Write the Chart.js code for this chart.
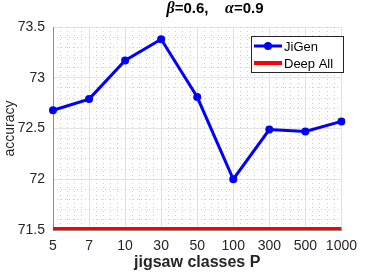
<!DOCTYPE html>
<html>
<head>
<meta charset="utf-8">
<script src="https://cdn.jsdelivr.net/npm/chart.js@4.4.0/dist/chart.umd.min.js"></script>
<style>
  body { margin: 0; background: #fff; }
  #wrap { width: 365px; height: 273px; }
</style>
</head>
<body>
<div id="wrap"><canvas id="chart" width="365" height="273"></canvas></div>
<script>
// values
const categories = ["5", "7", "10", "30", "50", "100", "300", "500", "1000"];
const jigenAcc = [72.68, 72.79, 73.17, 73.38, 72.81, 72.0, 72.49, 72.47, 72.57];
const deepAllAcc = [71.51, 71.51, 71.51, 71.51, 71.51, 71.51, 71.51, 71.51, 71.51];
const yMin = 71.5;
const yMax = 73.5;
const yStep = 0.5;

const tickFont = { family: "'Liberation Sans', Arial, sans-serif", size: 14 };
const majorGrid = "#e3e3e3";
const minorGrid = "#d0d0d0";

// title with italic greek letters
const titlePlugin = {
  id: "title2",
  afterDraw(chart) {
    const ctx = chart.ctx;
    const parts = [
      { t: "\u03b2", f: "italic bold 16px 'Liberation Serif', serif" },
      { t: "=0.6,    ", f: "bold 15px 'Liberation Sans', Arial, sans-serif" },
      { t: "\u03b1", f: "italic bold 16px 'Liberation Serif', serif" },
      { t: "=0.9", f: "bold 15px 'Liberation Sans', Arial, sans-serif" }
    ];
    ctx.save();
    ctx.fillStyle = "#000";
    ctx.textBaseline = "middle";
    let w = 0;
    parts.forEach(p => { ctx.font = p.f; w += ctx.measureText(p.t).width; });
    let x = 215 - w / 2;
    parts.forEach(p => {
      ctx.font = p.f;
      ctx.fillText(p.t, x, 9);
      x += ctx.measureText(p.t).width;
    });
    ctx.restore();
  }
};

// boxed legend in the upper right corner, like matlab's
const legendPlugin = {
  id: "boxLegend",
  afterDatasetsDraw(chart) {
    const ctx = chart.ctx;
    const x0 = 251, y0 = 36, w = 92, h = 36;
    ctx.save();
    ctx.fillStyle = "#fff";
    ctx.fillRect(x0, y0, w, h);
    ctx.strokeStyle = "#262626";
    ctx.lineWidth = 1;
    ctx.strokeRect(x0 + 0.5, y0 + 0.5, w, h);
    ctx.font = "13px 'Liberation Sans', Arial, sans-serif";
    ctx.textBaseline = "middle";
    chart.data.datasets.forEach((ds, i) => {
      const y = y0 + 10 + i * 17;
      ctx.strokeStyle = ds.borderColor;
      ctx.lineWidth = ds.borderWidth;
      ctx.beginPath();
      ctx.moveTo(x0 + 3, y);
      ctx.lineTo(x0 + 31, y);
      ctx.stroke();
      if (ds.pointRadius > 0) {
        ctx.fillStyle = ds.borderColor;
        ctx.beginPath();
        ctx.arc(x0 + 17, y, ds.pointRadius, 0, Math.PI * 2);
        ctx.fill();
      }
      ctx.fillStyle = "#000";
      ctx.fillText(ds.label, x0 + 33, y + 1);
    });
    ctx.restore();
  }
};

new Chart(document.getElementById("chart"), {
  type: "line",
  data: {
    labels: categories,
    datasets: [
      {
        label: "JiGen",
        data: jigenAcc,
        xAxisID: "x",
        yAxisID: "y",
        borderColor: "#0000ff",
        backgroundColor: "#0000ff",
        borderWidth: 3,
        pointRadius: 4,
        pointBackgroundColor: "#0000ff",
        pointBorderWidth: 0,
        tension: 0,
        fill: false
      },
      {
        label: "Deep All",
        data: deepAllAcc,
        xAxisID: "x",
        yAxisID: "y",
        borderColor: "#ff0000",
        backgroundColor: "#ff0000",
        borderWidth: 4,
        pointRadius: 0,
        tension: 0,
        fill: false
      }
    ]
  },
  options: {
    responsive: false,
    animation: false,
    layout: { padding: { top: 27, right: 13, left: 0, bottom: 0 } },
    plugins: { legend: { display: false }, title: { display: false }, tooltip: { enabled: false } },
    scales: {
      x: {
        type: "category",
        offset: false,
        grid: { color: majorGrid, drawTicks: false },
        border: { color: "#8c8c8c", width: 1 },
        ticks: { color: "#262626", font: tickFont, padding: 8, maxRotation: 0, autoSkip: false },
        title: {
          display: true,
          text: "jigsaw classes P",
          color: "#262626",
          font: { family: "'Liberation Sans', Arial, sans-serif", size: 16, weight: "bold" },
          padding: { top: 0, bottom: 1 }
        },
        afterFit: s => { s.height = 43; }
      },
      y: {
        min: yMin,
        max: yMax,
        grid: { color: majorGrid, drawTicks: false },
        border: { color: "#8c8c8c", width: 1 },
        ticks: { color: "#262626", font: tickFont, stepSize: yStep, padding: 8, callback: v => String(Number(v)) },
        title: {
          display: true,
          text: "accuracy",
          color: "#262626",
          font: { family: "'Liberation Sans', Arial, sans-serif", size: 14 },
          padding: { top: 2, bottom: 0 }
        },
        afterFit: s => { s.width = 53; }
      },
      xMinor: {
        type: "linear",
        position: "bottom",
        min: 0,
        max: 8,
        ticks: { display: false, stepSize: 0.2 },
        border: { display: false, dash: [1, 3] },
        grid: {
          drawTicks: false,
          color: c => Math.abs(c.tick.value - Math.round(c.tick.value)) < 1e-6 ? "rgba(0,0,0,0)" : minorGrid
        },
        afterFit: s => { s.height = 0; }
      },
      yMinor: {
        type: "linear",
        position: "left",
        min: yMin,
        max: yMax,
        ticks: { display: false, stepSize: 0.1 },
        border: { display: false, dash: [1, 3] },
        grid: {
          drawTicks: false,
          color: c => {
            const v = c.tick.value * 2;
            return Math.abs(v - Math.round(v)) < 1e-6 ? "rgba(0,0,0,0)" : minorGrid;
          }
        },
        afterFit: s => { s.width = 0; }
      }
    }
  },
  plugins: [titlePlugin, legendPlugin]
});
</script>
</body>
</html>
